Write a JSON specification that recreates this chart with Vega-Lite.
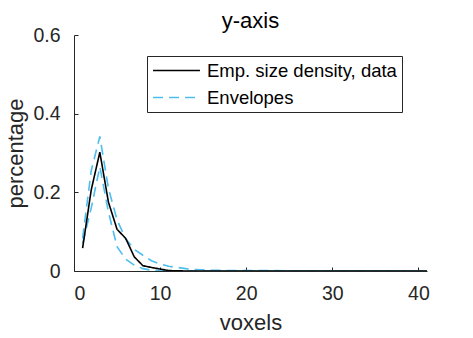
{
  "$schema": "https://vega.github.io/schema/vega-lite/v6.json",
  "autosize": "none",
  "width": 353,
  "height": 236,
  "padding": {"left": 74, "top": 35, "right": 46, "bottom": 67},
  "background": "white",
  "config": {
    "font": "Liberation Sans",
    "view": {"stroke": null},
    "axis": {"grid": false, "domainColor": "#262626", "tickColor": "#262626", "labelColor": "#262626", "titleColor": "#262626", "labelFont": "Liberation Sans", "titleFont": "Liberation Sans", "labelFontSize": 19.5, "titleFontSize": 22, "titleFontWeight": "normal", "tickSize": -4}
  },
  "title": {"text": "y-axis", "fontSize": 22, "fontWeight": "normal", "color": "#000000", "offset": -8, "font": "Liberation Sans"},
  "data": {"values": [
    {"voxels": 1, "value": 0.083, "series": "Envelopes", "curve": "upper"},
    {"voxels": 2, "value": 0.255, "series": "Envelopes", "curve": "upper"},
    {"voxels": 3, "value": 0.342, "series": "Envelopes", "curve": "upper"},
    {"voxels": 4, "value": 0.21, "series": "Envelopes", "curve": "upper"},
    {"voxels": 5, "value": 0.13, "series": "Envelopes", "curve": "upper"},
    {"voxels": 6, "value": 0.082, "series": "Envelopes", "curve": "upper"},
    {"voxels": 7, "value": 0.055, "series": "Envelopes", "curve": "upper"},
    {"voxels": 8, "value": 0.04, "series": "Envelopes", "curve": "upper"},
    {"voxels": 9, "value": 0.026, "series": "Envelopes", "curve": "upper"},
    {"voxels": 10, "value": 0.018, "series": "Envelopes", "curve": "upper"},
    {"voxels": 11, "value": 0.012, "series": "Envelopes", "curve": "upper"},
    {"voxels": 12, "value": 0.009, "series": "Envelopes", "curve": "upper"},
    {"voxels": 13, "value": 0.006, "series": "Envelopes", "curve": "upper"},
    {"voxels": 14, "value": 0.004, "series": "Envelopes", "curve": "upper"},
    {"voxels": 15, "value": 0.003, "series": "Envelopes", "curve": "upper"},
    {"voxels": 16, "value": 0.002, "series": "Envelopes", "curve": "upper"},
    {"voxels": 18, "value": 0.001, "series": "Envelopes", "curve": "upper"},
    {"voxels": 20, "value": 0.001, "series": "Envelopes", "curve": "upper"},
    {"voxels": 41, "value": 0, "series": "Envelopes", "curve": "upper"},
    {"voxels": 1, "value": 0.07, "series": "Envelopes", "curve": "lower"},
    {"voxels": 2, "value": 0.16, "series": "Envelopes", "curve": "lower"},
    {"voxels": 3, "value": 0.265, "series": "Envelopes", "curve": "lower"},
    {"voxels": 4, "value": 0.15, "series": "Envelopes", "curve": "lower"},
    {"voxels": 5, "value": 0.062, "series": "Envelopes", "curve": "lower"},
    {"voxels": 6, "value": 0.03, "series": "Envelopes", "curve": "lower"},
    {"voxels": 7, "value": 0.015, "series": "Envelopes", "curve": "lower"},
    {"voxels": 8, "value": 0.006, "series": "Envelopes", "curve": "lower"},
    {"voxels": 9, "value": 0.002, "series": "Envelopes", "curve": "lower"},
    {"voxels": 10, "value": 0.001, "series": "Envelopes", "curve": "lower"},
    {"voxels": 11, "value": 0, "series": "Envelopes", "curve": "lower"},
    {"voxels": 20, "value": 0, "series": "Envelopes", "curve": "lower"},
    {"voxels": 41, "value": 0, "series": "Envelopes", "curve": "lower"},
    {"voxels": 1, "value": 0.058, "series": "Emp. size density, data", "curve": "data"},
    {"voxels": 2, "value": 0.206, "series": "Emp. size density, data", "curve": "data"},
    {"voxels": 3, "value": 0.302, "series": "Emp. size density, data", "curve": "data"},
    {"voxels": 4, "value": 0.175, "series": "Emp. size density, data", "curve": "data"},
    {"voxels": 5, "value": 0.106, "series": "Emp. size density, data", "curve": "data"},
    {"voxels": 6, "value": 0.083, "series": "Emp. size density, data", "curve": "data"},
    {"voxels": 7, "value": 0.036, "series": "Emp. size density, data", "curve": "data"},
    {"voxels": 8, "value": 0.0135, "series": "Emp. size density, data", "curve": "data"},
    {"voxels": 9, "value": 0.009, "series": "Emp. size density, data", "curve": "data"},
    {"voxels": 10, "value": 0.005, "series": "Emp. size density, data", "curve": "data"},
    {"voxels": 11, "value": 0.001, "series": "Emp. size density, data", "curve": "data"},
    {"voxels": 12, "value": 0.0005, "series": "Emp. size density, data", "curve": "data"},
    {"voxels": 13, "value": 0, "series": "Emp. size density, data", "curve": "data"},
    {"voxels": 20, "value": 0, "series": "Emp. size density, data", "curve": "data"},
    {"voxels": 41, "value": 0, "series": "Emp. size density, data", "curve": "data"}
  ]},
  "mark": {"type": "line", "strokeWidth": 1.6, "clip": true},
  "encoding": {
    "x": {"field": "voxels", "type": "quantitative", "title": "voxels", "scale": {"domain": [0, 41], "nice": false}, "axis": {"values": [0, 10, 20, 30, 40], "labelPadding": 17, "titlePadding": 10}},
    "y": {"field": "value", "type": "quantitative", "title": "percentage", "scale": {"domain": [0, 0.6], "nice": false}, "axis": {"values": [0, 0.2, 0.4, 0.6], "labelPadding": 18, "titlePadding": 5, "labelExpr": "datum.value == 0 ? '0' : format(datum.value, '.1f')"}},
    "color": {"field": "series", "type": "nominal", "title": null, "scale": {"domain": ["Emp. size density, data", "Envelopes"], "range": ["#000000", "#4DBEEE"]}, "legend": {"orient": "none", "legendX": 73, "legendY": 21, "symbolType": "stroke", "symbolSize": 2200, "symbolStrokeWidth": 1.6, "clipHeight": 19, "labelFontSize": 18.5, "labelLimit": 400, "labelColor": "#000000", "labelFont": "Liberation Sans", "strokeColor": "#262626", "fillColor": "white", "padding": 5, "rowPadding": 8, "labelOffset": 6}},
    "strokeDash": {"field": "series", "type": "nominal", "title": null, "scale": {"domain": ["Emp. size density, data", "Envelopes"], "range": [[1, 0], [10, 6]]}, "legend": {"orient": "none", "legendX": 73, "legendY": 21, "symbolType": "stroke", "symbolSize": 2200, "symbolStrokeWidth": 1.6, "clipHeight": 19, "labelFontSize": 18.5, "labelLimit": 400, "labelColor": "#000000", "labelFont": "Liberation Sans", "strokeColor": "#262626", "fillColor": "white", "padding": 5, "rowPadding": 8, "labelOffset": 6}},
    "detail": {"field": "curve", "type": "nominal"}
  }
}
